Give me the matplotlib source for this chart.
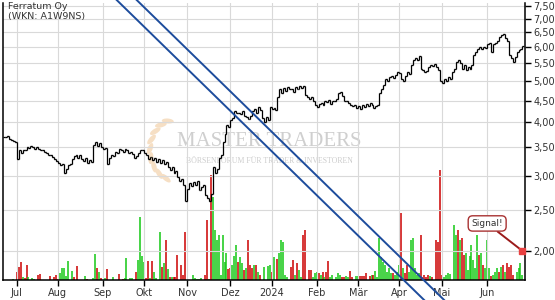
import numpy as np
import pandas as pd
import matplotlib
matplotlib.use("Agg")
import matplotlib.pyplot as plt
from matplotlib.patches import Ellipse
from matplotlib.ticker import FixedLocator, FuncFormatter, NullLocator

# daily closes (EUR), one per trading day, late June 2023 -> late June 2024
closes = [
    3.70, 3.72, 3.66, 3.64, 3.62, 3.60, 3.28, 3.45, 3.40, 3.44,
    3.45, 3.50, 3.48, 3.52, 3.50, 3.47, 3.50, 3.46, 3.44, 3.45,
    3.42, 3.40, 3.36, 3.35, 3.32, 3.28, 3.25, 3.22, 3.18, 3.20,
    3.05, 3.12, 3.18, 3.20, 3.28, 3.34, 3.36, 3.30, 3.35, 3.28,
    3.25, 3.30, 3.22, 3.26, 3.24, 3.55, 3.60, 3.52, 3.58, 3.50,
    3.46, 3.48, 3.20, 3.30, 3.36, 3.34, 3.42, 3.40, 3.46, 3.44,
    3.42, 3.46, 3.44, 3.40, 3.42, 3.38, 3.30, 3.34, 3.40, 3.44,
    3.45, 3.40, 3.35, 3.28, 3.32, 3.26, 3.30, 3.24, 3.28, 3.22,
    3.26, 3.20, 3.24, 3.14, 3.10, 3.15, 3.05, 3.08, 2.98, 2.92,
    2.95, 2.85, 2.62, 2.80, 2.88, 2.84, 2.90, 2.86, 2.92, 2.78,
    2.82, 2.85, 2.70, 2.66, 2.62, 2.72, 3.15, 3.05, 3.12, 3.30,
    3.35, 3.60, 3.75, 3.95, 3.90, 4.05, 4.10, 4.25, 4.20, 4.22,
    4.18, 4.25, 4.15, 4.12, 4.08, 4.15, 4.25, 4.30, 4.22, 4.35,
    4.28, 4.10, 4.00, 4.12, 4.05, 4.35, 4.30, 4.32, 4.28, 4.60,
    4.80, 4.70, 4.82, 4.75, 4.85, 4.78, 4.80, 4.72, 4.85, 4.80,
    4.88, 4.82, 4.86, 4.65, 4.60, 4.55, 4.58, 4.50, 4.40, 4.35,
    4.42, 4.45, 4.40, 4.48, 4.46, 4.52, 4.42, 4.50, 4.48, 4.55,
    4.70, 4.72, 4.62, 4.50, 4.48, 4.45, 4.40, 4.36, 4.40, 4.32,
    4.38, 4.30, 4.40, 4.35, 4.42, 4.38, 4.45, 4.40, 4.32, 4.36,
    4.40, 4.70, 4.80, 4.90, 5.05, 5.00, 5.12, 5.15, 5.08, 5.18,
    5.25, 5.22, 5.05, 5.00, 5.15, 5.25, 5.20, 5.45, 5.60, 5.65,
    5.60, 5.72, 5.35, 5.30, 5.25, 5.28, 5.40, 5.45, 5.42, 5.48,
    5.40, 5.30, 5.00, 4.95, 5.05, 5.00, 5.10, 5.05, 5.25, 5.35,
    5.55, 5.60, 5.50, 5.35, 5.45, 5.30, 5.40, 5.35, 5.45, 5.75,
    5.85, 5.95, 6.00, 5.95, 6.02, 5.98, 6.10, 6.15, 5.85, 6.10,
    6.15, 6.20, 6.35, 6.40, 6.45, 6.30, 6.20, 5.75, 5.65, 5.55,
    5.70, 5.85, 5.90, 5.95, 6.05,
]

# traded volume (thousand shares), same days
volumes = [
    0, 0, 0, 0, 1, 0, 8, 13, 18, 3,
    2, 15, 3, 0, 2, 1, 0, 5, 6, 0,
    0, 0, 0, 4, 0, 3, 5, 1, 7, 12,
    12, 4, 19, 0, 9, 3, 0, 14, 0, 0,
    0, 4, 1, 0, 0, 2, 26, 12, 8, 2,
    0, 2, 11, 0, 0, 3, 0, 0, 6, 0,
    1, 2, 22, 0, 2, 2, 0, 8, 20, 63,
    24, 18, 2, 19, 2, 19, 8, 2, 0, 48,
    13, 17, 40, 11, 3, 3, 3, 3, 25, 0,
    15, 5, 48, 0, 0, 0, 5, 2, 1, 1,
    2, 0, 5, 60, 1, 105, 83, 50, 40, 45,
    5, 45, 18, 27, 11, 12, 15, 24, 35, 18,
    23, 17, 10, 12, 40, 15, 12, 15, 15, 8,
    5, 0, 13, 0, 14, 15, 8, 23, 0, 21,
    27, 40, 38, 5, 3, 0, 13, 20, 5, 17,
    10, 3, 45, 50, 0, 10, 10, 3, 7, 8,
    7, 5, 8, 3, 8, 19, 3, 5, 0, 3,
    7, 5, 3, 3, 4, 3, 9, 3, 0, 4,
    4, 4, 4, 4, 7, 0, 4, 5, 5, 9,
    3, 42, 23, 18, 15, 8, 12, 7, 7, 5,
    8, 15, 67, 12, 7, 15, 8, 40, 42, 12,
    5, 7, 45, 3, 5, 3, 5, 4, 3, 0,
    40, 38, 110, 5, 3, 5, 7, 6, 0, 55,
    45, 50, 40, 42, 25, 27, 10, 24, 35, 20,
    12, 45, 25, 27, 15, 12, 40, 12, 4, 5,
    8, 12, 8, 13, 15, 8, 17, 13, 15, 5,
    0, 8, 12, 17, 5,
]

# volume bar colour per day: g = green, r = red
vol_colors = "".join([
    "ggggggrrrg", "rrgggggrrg", "gggrgrrrgg", "gggggrgrgg", "ggrggggrgr",
    "ggrgggggrg", "rggggggrgg", "ggrrgrgggg", "rgrgrgrrrg", "rrrggggggg",
    "ggrrgrgggg", "ggggrrgggr", "ggrgrrrgrg", "rgggggrggr", "ggggggrrgr",
    "ggrrgrrggg", "rgrgrrgggg", "ggrrggrrgg", "grrrrgrgrg", "ggggggggrg",
    "ggrgrrgggg", "ggrrrrrgrg", "rrrrgggggg", "grgrrggggg", "ggrgrgggrg",
    "ggrgrgrrrr", "ggggg",
])

months = ["Jul", "Aug", "Sep", "Okt", "Nov", "Dez", "2024",
          "Feb", "Mär", "Apr", "Mai", "Jun"]
price_ticks = [2.0, 2.5, 3.0, 3.5, 4.0, 4.5, 5.0, 5.5, 6.0, 6.5, 7.0, 7.5]

# two parallel down-trend lines, each given by two (day index, price) anchors
channel = [((99.4, 5.0), (188.2, 2.0)),
           ((109.6, 5.0), (198.4, 2.0))]

signal_idx, signal_price = 264, 2.0
signal_box = (246.0, 2.32)

dates = pd.bdate_range("2023-06-23", periods=len(closes))
x = np.arange(len(closes))
c = np.array(closes)
o = np.r_[c[0], c[:-1]]

fig = plt.figure(figsize=(5.55, 3.0), dpi=100)
ax = fig.add_axes([3 / 555, 20 / 300, 522 / 555, 277 / 300])
ax2 = ax.twinx()
ax.set_zorder(ax2.get_zorder() + 1)
ax.patch.set_visible(False)

# watermark (laurel + lettering), drawn behind everything
for ang in np.linspace(105, 250, 9):
    r = np.radians(ang)
    cx, cy = 1.74 + 0.24 * np.cos(r), 1.50 + 0.30 * np.sin(r)
    fig.patches.append(Ellipse((cx, cy), 0.12, 0.05, angle=ang + 70,
                               transform=fig.dpi_scale_trans, fc="#f6dfc4",
                               ec="none", zorder=0))
fig.text(0.51 * 522 / 555 + 3 / 555, 0.5 * 277 / 300 + 20 / 300, "MASTER TRADERS",
         ha="center", va="center", fontsize=15, family="Liberation Serif",
         color="#cfcfcf", zorder=0)
fig.text(0.51 * 522 / 555 + 3 / 555, 0.43 * 277 / 300 + 20 / 300,
         "BÖRSENFORUM FÜR TRADER & INVESTOREN", ha="center", va="center",
         fontsize=5.6, family="Liberation Serif", color="#cccccc", zorder=0)

# volume
cmap = {"g": "#14c814", "r": "#cc0000"}
ax2.vlines(x, 0, volumes, colors=[cmap[k] for k in vol_colors], lw=1.1)
ax2.set_ylim(0, 277)
ax2.set_yticks([])
for s in ax2.spines.values():
    s.set_visible(False)

# OHLC bars
ax.vlines(x, np.minimum(o, c), np.maximum(o, c), color="black", lw=0.9)
ax.hlines(o, x - 0.75, x, color="black", lw=0.9)
ax.hlines(c, x, x + 0.75, color="black", lw=0.9)

ax.set_yscale("log")
ax.set_ylim(1.71, 7.62)
ax.set_xlim(-1, 265.3)

# channel lines
for (i1, p1), (i2, p2) in channel:
    k = (i2 - i1) / (np.log(p2) - np.log(p1))
    ends = np.array([8.0, 1.45])
    xi = i1 + (np.log(ends) - np.log(p1)) * k
    ax.plot(xi, ends, color="#1d4c9c", lw=1.4, clip_on=False, zorder=5)

# signal
ax.annotate("Signal!", xy=(signal_idx, signal_price), xytext=signal_box,
            ha="center", va="center", fontsize=6.5, color="#333333",
            bbox=dict(boxstyle="round,pad=0.35,rounding_size=0.5", fc="white",
                      ec="#a83232", lw=1),
            arrowprops=dict(arrowstyle="-", color="#9b1b1b", lw=1.4,
                            shrinkA=0, shrinkB=0),
            annotation_clip=False, zorder=6)
ax.plot(signal_idx, signal_price, marker="s", ms=4, color="#e84040",
        clip_on=False, zorder=7)

# axes styling
ax.yaxis.tick_right()
ax.yaxis.set_major_locator(FixedLocator(price_ticks))
ax.yaxis.set_minor_locator(NullLocator())
ax.yaxis.set_major_formatter(FuncFormatter(lambda v, p: f"{v:.2f}".replace(".", ",")))
ax.yaxis.set_minor_formatter(FuncFormatter(lambda v, p: ""))

mstart = [i for i in range(1, len(dates)) if dates[i].month != dates[i - 1].month]
ax.set_xticks(mstart)
ax.set_xticklabels(months[:len(mstart)])

ax.tick_params(axis="both", labelsize=7, labelcolor="#333333", length=4,
               width=1, direction="out", pad=2)
ax.grid(True, color="#d9d9d9", lw=0.8)
ax.spines["top"].set_visible(False)
for s in ("left", "right", "bottom"):
    ax.spines[s].set_color("black")
    ax.spines[s].set_linewidth(1.1)

fig.text(8 / 555, 1 - 2 / 300, "Ferratum Oy\n(WKN: A1W9NS)", ha="left", va="top",
         fontsize=6.8, color="#333333", linespacing=1.1)

fig.savefig("out.png", dpi=100)
